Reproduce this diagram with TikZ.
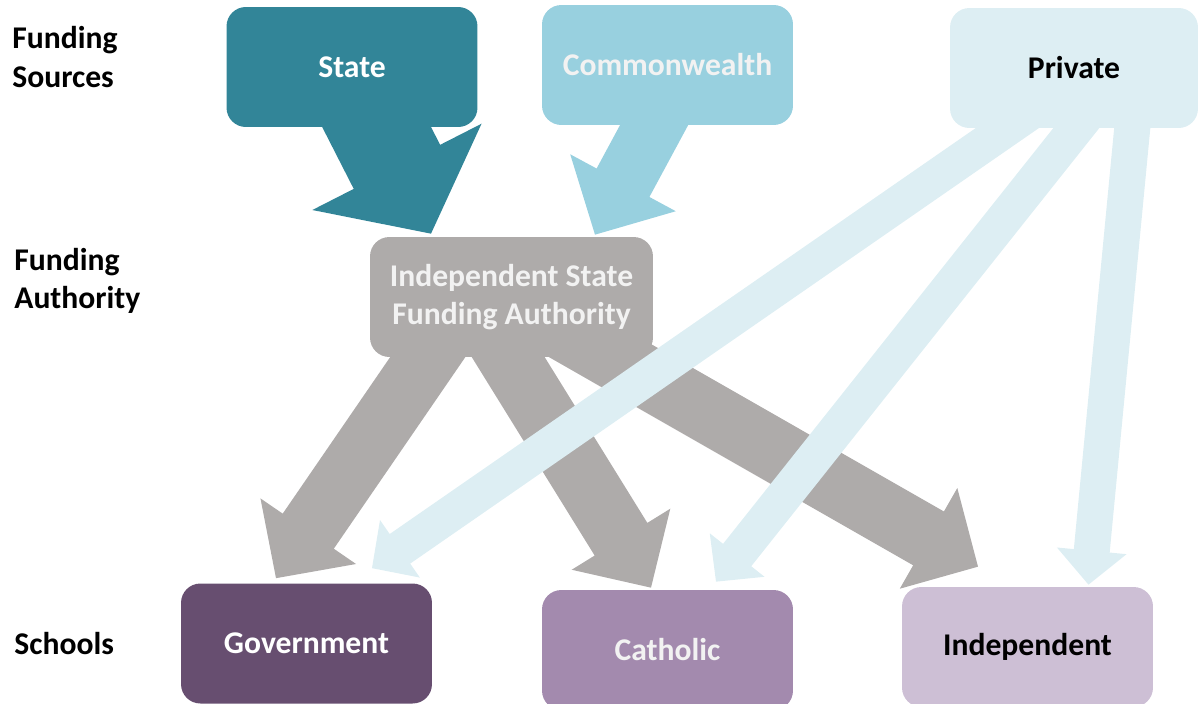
\documentclass[tikz,border=0pt]{standalone}
\usepackage{fontspec}
\setmainfont{Carlito}
\usetikzlibrary{calc,backgrounds}

\definecolor{statecol}{HTML}{328598}
\definecolor{cwcol}{HTML}{98D0DF}
\definecolor{privcol}{HTML}{DDEEF3}
\definecolor{authcol}{HTML}{AEABAA}
\definecolor{govcol}{HTML}{674E70}
\definecolor{cathcol}{HTML}{A38AAE}
\definecolor{indcol}{HTML}{CDBFD5}
\definecolor{paletext}{HTML}{F2F2F2}

% fat arrow: [fill]{tail}{tip}{half shaft}{half head}{head length}
\newcommand{\blockarrow}[6][]{%
  \coordinate (ba-t) at (#2);
  \coordinate (ba-h) at (#3);
  \coordinate (ba-b) at ($(ba-h)!#6!(ba-t)$);
  \fill[#1] ($(ba-t)!#4!90:(ba-h)$) -- ($(ba-b)!#4!90:(ba-h)$)
         -- ($(ba-b)!#5!90:(ba-h)$) -- (ba-h)
         -- ($(ba-b)!#5!-90:(ba-h)$) -- ($(ba-b)!#4!-90:(ba-h)$)
         -- ($(ba-t)!#4!-90:(ba-h)$) -- cycle;
}

\begin{document}
\begin{tikzpicture}[x=0.02cm, y=-0.02cm]

    \tikzstyle{box}=[rectangle, rounded corners=11pt, minimum width=5.02cm, minimum height=2.4cm,
                     align=center, font=\bfseries\fontsize{18}{22}\selectfont]
    \tikzstyle{level}=[anchor=west, align=left, inner sep=0pt, font=\bfseries\fontsize{18}{22}\selectfont]
    \tikzstyle{greyflow}=[fill=authcol]
    \tikzstyle{privflow}=[fill=privcol]

    \useasboundingbox (0,0) rectangle (1199,703);

    \node[level] (lbl-src)  at (12,57)  {Funding\\Sources};
    \node[level] (lbl-auth) at (14,281) {Funding\\Authority};
    \node[level] (lbl-sch)  at (14,644) {Schools};

    \node[box, fill=statecol, text=white] (st) at (352,67) {State};
    \node[box, fill=cwcol, text=paletext] (cw) at (667.5,65) {Commonwealth};
    \node[box, fill=privcol, minimum width=4.96cm] (pv) at (1074,68) {Private};

    \node[box, fill=authcol, text=paletext, minimum width=5.66cm] (auth) at (511.5,297)
         {Independent State\\Funding Authority};

    \node[box, fill=govcol, text=white] (gov) at (306.5,643.5) {Government};
    \node[box, fill=cathcol, text=paletext] (cat) at (667.5,650) {Catholic};
    \node[box, fill=indcol] (ind) at (1027.5,647) {Independent};

    % where the flows leave and arrive
    \coordinate (st-out)   at ($(st.center)+(-6,0)$);
    \coordinate (cw-out)   at ($(cw.center)+(19,0)$);
    \coordinate (auth-in1) at ($(auth.north)+(-80.5,-3)$);
    \coordinate (auth-in2) at ($(auth.north)+(83.5,-2)$);
    \coordinate (auth-g)   at ($(auth.center)+(-42.5,0)$);
    \coordinate (auth-c)   at ($(auth.center)+(-40.5,0)$);
    \coordinate (auth-i)   at ($(auth.center)+(0,3)$);
    \coordinate (pv-g)     at ($(pv.center)+(20,0)$);
    \coordinate (pv-c)     at ($(pv.center)+(50,0)$);
    \coordinate (pv-i)     at ($(pv.center)+(64,0)$);
    \coordinate (gov-in1)  at ($(gov.north)+(-30.5,-5)$);
    \coordinate (gov-in2)  at ($(gov.north)+(65.5,-15)$);
    \coordinate (cat-in1)  at ($(cat.north)+(-16.5,-2)$);
    \coordinate (cat-in2)  at ($(cat.north)+(48.5,-8)$);
    \coordinate (ind-in1)  at ($(ind.north)+(-49.5,-20)$);
    \coordinate (ind-in2)  at ($(ind.north)+(61,-2)$);

    \begin{scope}[on background layer]
        \blockarrow[fill=statecol]{st-out}{auth-in1}{0.97cm}{1.9cm}{1.5cm}
        \blockarrow[fill=cwcol]{cw-out}{auth-in2}{0.6cm}{1.2cm}{1.18cm}

        \blockarrow[greyflow]{auth-g}{gov-in1}{0.62cm}{1.16cm}{1.14cm}
        \blockarrow[greyflow]{auth-c}{cat-in1}{0.62cm}{1.16cm}{1.14cm}
        \blockarrow[greyflow]{auth-i}{ind-in1}{0.62cm}{1.16cm}{1.14cm}

        \blockarrow[privflow]{pv-g}{gov-in2}{0.36cm}{0.7cm}{0.68cm}
        \blockarrow[privflow]{pv-c}{cat-in2}{0.36cm}{0.7cm}{0.68cm}
        \blockarrow[privflow]{pv-i}{ind-in2}{0.36cm}{0.7cm}{0.68cm}
    \end{scope}
\end{tikzpicture}
\end{document}
